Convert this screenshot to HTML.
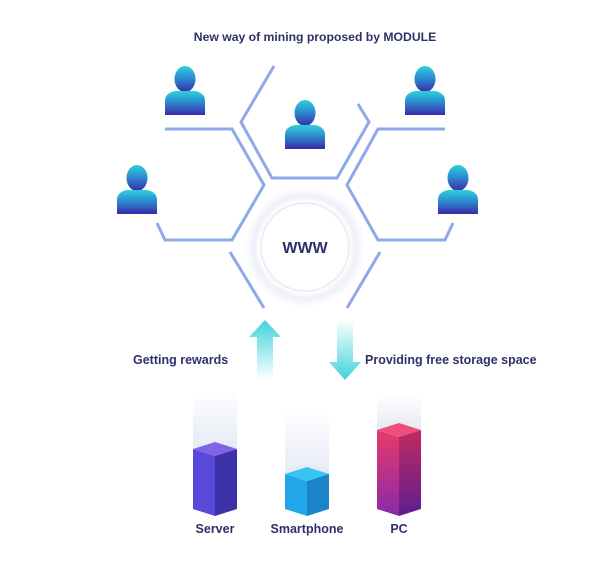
<!DOCTYPE html>
<html><head><meta charset="utf-8"><style>
body{margin:0;background:#fff;width:611px;height:568px;overflow:hidden}
svg{display:block}
text{font-family:"Liberation Sans",sans-serif;font-weight:bold;fill:#2d3168}
</style></head><body>
<svg width="611" height="568" viewBox="0 0 611 568">
<defs>
<linearGradient id="pg" x1="0" y1="0" x2="0" y2="1"><stop offset="0" stop-color="#2fd0dc"/><stop offset="0.45" stop-color="#2b8ed0"/><stop offset="1" stop-color="#3a2aa8"/></linearGradient>
<linearGradient id="au" x1="0" y1="0" x2="0" y2="1"><stop offset="0" stop-color="#3fd3dc"/><stop offset="1" stop-color="#3fd3dc" stop-opacity="0"/></linearGradient>
<linearGradient id="ad" x1="0" y1="1" x2="0" y2="0"><stop offset="0" stop-color="#3fd3dc"/><stop offset="1" stop-color="#3fd3dc" stop-opacity="0"/></linearGradient>
<linearGradient id="fade" x1="0" y1="1" x2="0" y2="0"><stop offset="0" stop-color="#e6e9f5"/><stop offset="1" stop-color="#e6e9f5" stop-opacity="0"/></linearGradient>
<linearGradient id="pcl" x1="0" y1="0" x2="0" y2="1"><stop offset="0" stop-color="#e83a6c"/><stop offset="1" stop-color="#8a2aa8"/></linearGradient>
<linearGradient id="pcr" x1="0" y1="0" x2="0" y2="1"><stop offset="0" stop-color="#c02a5e"/><stop offset="1" stop-color="#5e1e90"/></linearGradient>
<radialGradient id="halo"><stop offset="0.75" stop-color="#fff"/><stop offset="0.85" stop-color="#eef0f7"/><stop offset="1" stop-color="#fff"/></radialGradient>
<g id="person"><ellipse cx="0" cy="-12" rx="10.5" ry="13" fill="url(#pg)"/><path d="M-20 24 L-20 10 Q-20 2 -10 0 L10 0 Q20 2 20 10 L20 24 Z" fill="url(#pg)"/></g>
</defs>
<text x="315" y="41" font-size="12.2" text-anchor="middle">New way of mining proposed by MODULE</text>
<g fill="none" stroke="#8fa8ea" stroke-width="3">
<polyline points="274,66 241,122 272,178 337,178 369,122 358,104"/>
<polyline points="165,129 232,129 264,185 232,240 165,240 157,223"/>
<polyline points="445,129 378,129 347,185 378,240 445,240 453,223"/>
<line x1="230" y1="252" x2="264" y2="308"/>
<line x1="380" y1="252" x2="347" y2="308"/>
</g>
<circle cx="305" cy="247" r="60" fill="url(#halo)"/>
<circle cx="305" cy="247" r="44" fill="#fff" stroke="#eceef5" stroke-width="2"/>
<text x="305" y="253" font-size="16" text-anchor="middle" fill="#262a60">WWW</text>
<use href="#person" x="185" y="91"/>
<use href="#person" x="305" y="125"/>
<use href="#person" x="425" y="91"/>
<use href="#person" x="137" y="190"/>
<use href="#person" x="458" y="190"/>
<path d="M265 320 L281 337 L273 337 L273 380 L257 380 L257 337 L249 337 Z" fill="url(#au)"/>
<path d="M345 380 L329 362 L337 362 L337 320 L353 320 L353 362 L361 362 Z" fill="url(#ad)"/>
<text x="133" y="364" font-size="12.5">Getting rewards</text>
<text x="365" y="364" font-size="12.5">Providing free storage space</text>
<rect x="193" y="390" width="44" height="60" fill="url(#fade)"/>
<rect x="285" y="410" width="44" height="65" fill="url(#fade)"/>
<rect x="377" y="395" width="44" height="35" fill="url(#fade)"/>
<polygon points="193,449 215,442 237,449 215,456" fill="#7f64e6"/>
<polygon points="193,449 215,456 215,516 193,509" fill="#5a48d8"/>
<polygon points="215,456 237,449 237,509 215,516" fill="#3c32a8"/>
<polygon points="285,474 307,467 329,474 307,481" fill="#38c4f0"/>
<polygon points="285,474 307,481 307,516 285,509" fill="#22a6ea"/>
<polygon points="307,481 329,474 329,509 307,516" fill="#1b84c8"/>
<polygon points="377,430 399,423 421,430 399,437" fill="#f04e7a"/>
<polygon points="377,430 399,437 399,516 377,509" fill="url(#pcl)"/>
<polygon points="399,437 421,430 421,509 399,516" fill="url(#pcr)"/>
<text x="215" y="533" font-size="12.5" text-anchor="middle">Server</text>
<text x="307" y="533" font-size="12.5" text-anchor="middle">Smartphone</text>
<text x="399" y="533" font-size="12.5" text-anchor="middle">PC</text>
</svg>
</body></html>
